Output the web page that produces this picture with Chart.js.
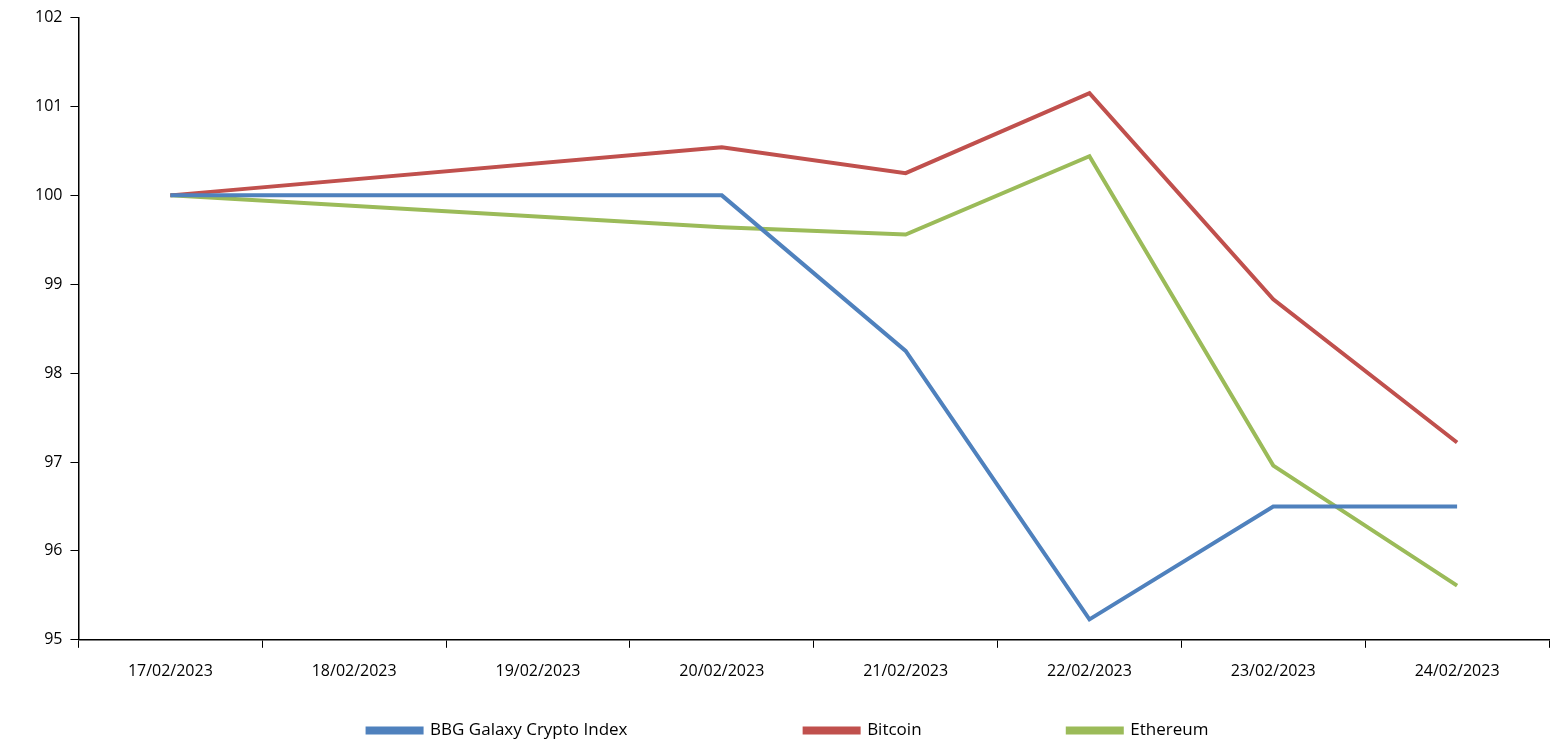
<!DOCTYPE html>
<html>
<head>
<meta charset="utf-8">
<script src="https://cdn.jsdelivr.net/npm/chart.js@4"></script>
<style>
  html, body { margin: 0; padding: 0; background: #fff; }
  #wrap { width: 1565px; height: 756px; }
</style>
</head>
<body>
<div id="wrap"><canvas id="chart"></canvas></div>
<script>
const dates = ['17/02/2023', '18/02/2023', '19/02/2023', '20/02/2023', '21/02/2023', '22/02/2023', '23/02/2023', '24/02/2023'];
const galaxyIndex = [100, null, null, 100, 98.25, 95.23, 96.5, 96.5];
const bitcoin = [100, null, null, 100.54, 100.25, 101.15, 98.83, 97.22];
const ethereum = [100, null, null, 99.64, 99.56, 100.44, 96.96, 95.61];

Chart.defaults.font.family = "'Open Sans', 'Liberation Sans', sans-serif";
Chart.defaults.font.size = 16;
Chart.defaults.color = '#000';

const line = (label, data, color) => ({
  label, data, borderColor: color, backgroundColor: color,
  borderWidth: 4, pointRadius: 0, spanGaps: true, tension: 0,
});

// widen legend items with trailing spaces so they sit far apart
const gaps = ['\u00a0'.repeat(34), '\u00a0'.repeat(27), ''];

new Chart(document.getElementById('chart'), {
  type: 'line',
  data: {
    labels: dates,
    datasets: [
      line('BBG Galaxy Crypto Index', galaxyIndex, '#4f81bd'),
      line('Bitcoin', bitcoin, '#c0504d'),
      line('Ethereum', ethereum, '#9bbb59'),
    ],
  },
  options: {
    responsive: true,
    maintainAspectRatio: false,
    animation: false,
    layout: { padding: { top: 12, right: 16, left: 27, bottom: 7 } },
    plugins: {
      legend: {
        position: 'bottom',
        labels: {
          boxWidth: 54, boxHeight: 4, padding: 27, font: { size: 17 },
          generateLabels: (chart) => Chart.defaults.plugins.legend.labels.generateLabels(chart)
            .map((item, i) => ({ ...item, text: item.text + gaps[i] })),
        },
      },
      tooltip: { enabled: false },
    },
    scales: {
      x: {
        offset: true,
        grid: { display: true, offset: true, drawOnChartArea: false, tickLength: 8, color: '#000' },
        border: { color: '#000', width: 1.5 },
        ticks: { padding: 14, maxRotation: 0 },
      },
      y: {
        min: 95, max: 102,
        grid: { drawOnChartArea: false, tickLength: 8, color: '#000' },
        border: { color: '#000', width: 1.5 },
        ticks: { stepSize: 1, padding: 8 },
      },
    },
  },
});
</script>
</body>
</html>
